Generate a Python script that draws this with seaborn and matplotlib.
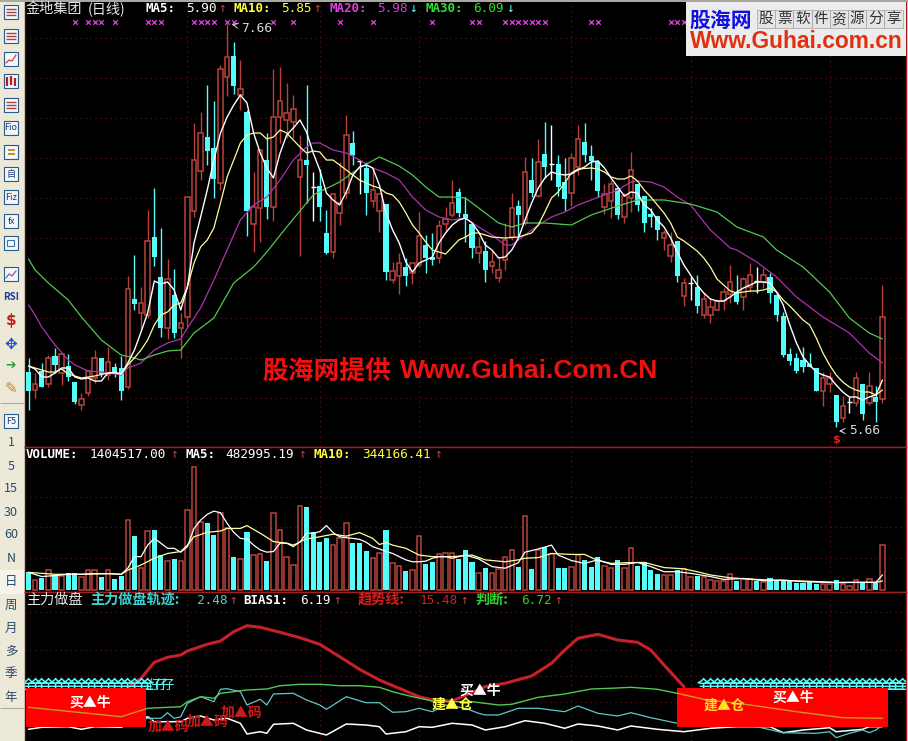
import numpy as np
import matplotlib
matplotlib.use('Agg')
import matplotlib.pyplot as plt
from matplotlib.patches import Rectangle
import seaborn as sns

W, H = 908, 741

# candles, prices
kind = ("crcrcrccrr" "rcrccrcrrc" "crcrrrrccr" "rcrcrrcrrr" "rrcwccrrrc" "wcrrcrrcrr" "ccrrrcccrc"
        "rrrrcrcrcw" "ccrrcccrrc" "rrccccrrcr" "wcrrrrrcrr" "wrcccccccc" "rrcrwrcrcr")
body_hi = [5.93,5.87,5.935,6.00,6.01,6.02,5.96,5.88,5.795,5.935,6.00,6.00,5.98,5.955,5.95,6.345,6.295,6.275,6.585,6.605,
           6.405,6.395,6.315,6.175,6.805,6.99,7.125,7.105,7.05,7.445,7.505,7.51,7.345,7.23,6.755,7.04,6.99,7.205,7.285,7.225,
           7.245,6.99,6.99,6.855,6.86,6.625,6.82,6.775,7.115,7.075,6.985,6.95,6.84,6.82,6.77,6.435,6.475,6.455,6.475,6.61,
           6.565,6.505,6.66,6.695,6.775,6.83,6.72,6.67,6.555,6.535,6.48,6.44,6.59,6.75,6.76,6.93,6.89,6.98,7.02,6.97,
           6.97,6.88,7.00,7.095,7.08,7.01,6.98,6.82,6.87,6.85,6.81,6.94,6.87,6.81,6.72,6.71,6.625,6.565,6.585,6.375,
           6.375,6.355,6.295,6.255,6.285,6.33,6.38,6.33,6.395,6.415,6.385,6.415,6.405,6.315,6.21,6.02,6.00,5.99,5.97,5.95,
           5.90,5.90,5.815,5.76,5.78,5.90,5.87,5.86,5.805,6.205]
body_lo = [5.835,5.84,5.855,5.87,5.965,5.925,5.905,5.78,5.765,5.825,5.90,5.92,5.915,5.925,5.835,5.855,6.27,6.225,6.215,6.505,
           6.15,6.15,6.125,6.15,6.205,6.735,6.935,7.035,6.895,6.875,7.405,7.36,7.315,6.735,6.67,6.75,6.755,6.755,7.205,7.19,
           7.18,6.905,6.965,6.855,6.755,6.525,6.53,6.725,6.825,7.015,6.985,6.825,6.785,6.735,6.43,6.39,6.41,6.41,6.425,6.465,
           6.50,6.49,6.50,6.67,6.715,6.725,6.70,6.55,6.525,6.44,6.46,6.40,6.49,6.605,6.715,6.675,6.825,6.81,6.955,6.97,
           6.855,6.795,6.825,6.955,7.015,6.985,6.835,6.755,6.785,6.715,6.705,6.80,6.765,6.675,6.705,6.64,6.60,6.51,6.41,6.31,
           6.375,6.26,6.215,6.215,6.24,6.285,6.32,6.28,6.305,6.355,6.385,6.38,6.325,6.215,6.015,5.985,5.935,5.955,5.955,5.835,
           5.835,5.87,5.68,5.70,5.78,5.775,5.72,5.775,5.78,5.795]
high = [6.00,5.925,5.975,6.015,6.05,6.02,6.02,5.88,5.825,5.935,6.04,6.00,6.055,5.975,6.01,6.41,6.515,6.355,6.74,6.85,
        6.65,6.495,6.445,6.225,6.805,7.175,7.23,7.365,7.285,7.465,7.67,7.58,7.49,7.24,6.93,7.04,7.125,7.445,7.455,7.375,
        7.315,7.115,7.365,6.93,6.945,6.74,6.82,6.98,7.215,7.135,6.99,6.98,6.95,6.82,6.77,6.48,6.525,6.50,6.475,6.73,
        6.615,6.625,6.69,6.755,6.89,6.85,6.805,6.68,6.605,6.585,6.54,6.505,6.675,6.825,6.79,7.005,7.00,7.095,7.18,7.165,
        7.015,7.00,7.025,7.165,7.175,7.065,6.99,6.87,6.89,6.85,6.825,7.03,6.87,6.81,6.75,6.71,6.64,6.63,6.585,6.40,
        6.405,6.415,6.325,6.30,6.295,6.35,6.465,6.415,6.405,6.475,6.455,6.45,6.425,6.325,6.23,6.05,6.025,6.055,6.025,5.95,
        5.93,5.93,5.815,5.81,5.805,5.93,5.87,5.93,5.86,6.365]
low = [5.74,5.80,5.855,5.855,5.925,5.865,5.885,5.77,5.74,5.81,5.875,5.905,5.89,5.905,5.79,5.845,6.24,6.14,6.20,6.46,
       6.105,6.095,6.10,6.00,6.16,6.705,6.89,6.965,6.80,6.84,7.31,7.32,7.24,6.61,6.53,6.58,6.695,6.685,7.075,7.10,
       7.10,6.51,6.775,6.685,6.685,6.52,6.50,6.665,6.80,6.965,6.82,6.715,6.755,6.63,6.39,6.375,6.32,6.36,6.37,6.455,
       6.425,6.465,6.475,6.63,6.705,6.705,6.58,6.50,6.475,6.38,6.425,6.38,6.44,6.59,6.605,6.665,6.805,6.805,6.90,6.89,
       6.81,6.735,6.76,6.915,6.98,6.89,6.805,6.72,6.70,6.695,6.675,6.73,6.735,6.63,6.655,6.59,6.54,6.48,6.38,6.26,
       6.29,6.225,6.20,6.175,6.24,6.24,6.275,6.27,6.24,6.33,6.325,6.35,6.275,6.185,6.005,5.965,5.925,5.93,5.955,5.835,
       5.76,5.83,5.655,5.68,5.725,5.76,5.69,5.765,5.68,5.775]

ma5 = [5.96,5.945,5.905,5.905,5.925,5.95,5.95,5.905,5.895,5.90,5.885,5.885,5.925,5.925,5.92,5.975,6.04,6.13,6.225,6.385,
       6.37,6.38,6.34,6.24,6.355,6.575,6.705,6.84,6.99,7.125,7.205,7.265,7.315,7.275,7.125,7.025,6.95,6.90,7.025,7.115,
       7.15,7.19,7.13,7.025,6.94,6.825,6.79,6.765,6.83,6.915,6.955,6.965,6.95,6.865,6.725,6.64,6.575,6.48,6.43,6.475,
       6.49,6.505,6.575,6.625,6.665,6.69,6.70,6.675,6.63,6.565,6.54,6.50,6.505,6.54,6.60,6.69,6.775,6.85,6.90,6.93,
       6.92,6.915,6.92,6.94,6.955,6.98,6.985,6.95,6.90,6.855,6.81,6.83,6.825,6.765,6.74,6.69,6.655,6.60,6.53,6.465,
       6.415,6.365,6.325,6.295,6.285,6.285,6.305,6.33,6.35,6.365,6.38,6.38,6.375,6.33,6.265,6.165,6.075,6.005,5.965,5.93,
       5.915,5.905,5.865,5.83,5.805,5.805,5.79,5.805,5.815,5.89]
ma10_pts = [(0,5.96),(3,5.93),(4,5.93),(5,5.945),(6,5.92),(8,5.90),(10,5.91),(12,5.925),(13,5.93),(14,5.92),(15,5.965),(16,6.00),(17,6.04),(18,6.09),(19,6.165),
            (20,6.215),(21,6.23),(22,6.265),(23,6.275),(24,6.355),(25,6.475),(26,6.555),(27,6.59),(28,6.65),(29,6.775),(30,6.905),(31,6.99),(32,7.075),(33,7.115),(34,7.125),
            (35,7.125),(36,7.095),(37,7.105),(38,7.14),(39,7.125),(40,7.09),(41,7.055),(42,7.025),(43,7.035),(44,7.03),(45,6.99),(46,6.99),(47,6.965),(48,6.94),(49,6.915),
            (50,6.89),(51,6.875),(52,6.86),(53,6.85),(54,6.825),(55,6.815),(56,6.78),(57,6.725),(58,6.665),(59,6.625),(60,6.58),(61,6.54),(62,6.53),(63,6.52),(64,6.555),
            (65,6.59),(66,6.605),(67,6.625),(68,6.625),(69,6.615),(70,6.605),(72,6.60),(74,6.605),(76,6.625),(77,6.665),(78,6.73),(79,6.80),(80,6.83),(81,6.875),(82,6.925),
            (83,6.945),(85,6.95),(86,6.945),(87,6.93),(88,6.905),(89,6.895),(90,6.895),(91,6.91),(92,6.885),(93,6.84),(94,6.805),(95,6.765),(96,6.725),(97,6.675),(98,6.605),
            (99,6.585),(100,6.56),(101,6.535),(102,6.50),(103,6.455),(104,6.395),(105,6.365),(106,6.335),(107,6.325),(108,6.33),(109,6.335),(110,6.335),(111,6.34),(112,6.35),
            (113,6.33),(114,6.29),(115,6.26),(116,6.225),(117,6.19),(118,6.165),(119,6.10),(120,6.025),(121,5.965),(122,5.915),(123,5.88),(124,5.855),(125,5.84),(126,5.83),
            (127,5.83),(128,5.815),(129,5.84)]
ma20_pts = [(0,6.265),(1,6.215),(2,6.155),(4,6.065),(6,5.99),(7,5.965),(9,5.935),(11,5.93),(13,5.92),(14,5.915),(15,5.95),(17,5.975),(19,6.04),(21,6.075),(23,6.095),(24,6.15),
            (26,6.25),(28,6.39),(30,6.54),(32,6.69),(34,6.765),(36,6.805),(38,6.89),(40,6.99),(42,7.055),(43,7.075),(44,7.075),(46,7.04),(48,7.025),(50,6.99),(52,6.95),(54,6.925),
            (56,6.89),(58,6.805),(60,6.74),(62,6.705),(64,6.69),(66,6.70),(68,6.655),(70,6.615),(72,6.565),(73,6.565),(75,6.615),(77,6.665),(79,6.705),(81,6.73),(83,6.765),(85,6.79),
            (87,6.815),(89,6.84),(91,6.88),(92,6.885),(94,6.88),(96,6.855),(98,6.805),(100,6.765),(103,6.64),(106,6.55),(107,6.54),(110,6.48),(113,6.405),(116,6.305),(120,6.205),
            (124,6.125),(127,6.025),(129,5.975)]
ma30_pts = [(0,6.495),(1,6.44),(3,6.375),(6,6.29),(8,6.205),(11,6.09),(14,6.015),(16,6.00),(17,5.99),(19,6.015),(21,6.035),(23,6.04),(25,6.125),(28,6.20),(31,6.375),(34,6.455),
            (36,6.53),(39,6.655),(43,6.815),(47,6.88),(50,6.95),(53,7.005),(56,6.96),(58,6.915),(60,6.855),(62,6.805),(64,6.805),(66,6.80),(68,6.75),(71,6.675),(73,6.655),(75,6.675),
            (78,6.675),(82,6.665),(85,6.715),(89,6.76),(92,6.79),(96,6.79),(100,6.77),(104,6.73),(107,6.655),(111,6.605),(113,6.54),(117,6.455),(121,6.33),(124,6.20),(127,6.125),(129,6.095)]
flag_idx = [7,9,10,11,13,18,19,20,25,26,27,28,30,31,37,40,47,52,61,67,68,72,73,74,75,76,77,78,85,86,97,98,99]

# volume, in 10k
volume = [57,31,38,61,46,43,52,52,41,61,61,41,61,34,45,217,168,68,184,187,109,90,97,90,249,384,211,209,172,239,194,103,97,181,109,111,90,239,186,103,78,262,259,180,151,161,140,161,208,148,148,122,99,114,187,83,74,59,61,168,82,87,111,114,
          114,97,125,88,52,69,52,66,103,125,72,231,66,126,134,112,69,69,72,109,94,72,103,75,69,94,69,131,76,86,62,50,47,47,62,66,40,44,40,31,28,28,49,28,33,33,28,26,36,31,31,31,23,23,24,20,20,20,31,20,13,31,23,33,26,140]
doji_vol = {43:'c', 50:'c', 79:'r', 100:'r', 110:'c', 124:'r'}
vol5_pts = [(0,55),(2,42),(4,45),(6,49),(8,49),(10,51),(12,51),(14,49),(15,68),(16,104),(17,104),(18,140),(19,161),(20,146),(21,130),(22,130),(23,118),(24,135),(25,192),(26,218),(27,236),(28,246),(29,241),(30,208),(31,180),(32,161),(33,159),(34,140),(35,125),(36,118),(37,120),(38,146),(39,146),(40,140),(41,149),(42,177),(43,177),(44,182),(45,201),(46,179),(47,166),(48,163),(49,161),(50,158),(51,149),(52,135),(53,128),(54,120),(55,114),(56,104),(57,94),(58,88),(59,88),(60,90),(61,99),(62,104),(63,104),(64,99),(66,109),(68,97),(70,73),(72,68),(74,85),(75,118),(77,128),(79,140),(80,109),(82,92),(84,83),(86,94),(88,80),(90,80),(92,86),(94,73),(96,57),(98,57),(100,52),(103,42),(105,33),(108,36),(111,29),(114,31),(117,26),(122,23),(128,24),(129,47)]
vol10_pts = [(0,55),(4,49),(8,49),(12,51),(14,49),(15,62),(17,78),(19,99),(21,114),(23,120),(24,140),(25,166),(27,180),(29,184),(30,192),(32,192),(33,201),(35,177),(37,151),(39,146),(40,135),(41,151),(42,159),(44,166),(46,174),(48,168),(50,179),(52,161),(53,142),(54,148),(55,140),(57,130),(59,109),(61,104),(64,104),(67,109),(69,94),(72,88),(74,94),(75,99),(77,101),(79,114),(82,111),(84,111),(86,92),(88,83),(90,85),(93,86),(96,70),(99,66),(101,57),(103,47),(106,38),(109,34),(112,31),(117,28),(122,24),(128,24),(129,28)]

# indicator panel
trend_pts = [(15,46.3),(17,55.7),(19,71.7),(21,76.7),(23,79),(24,83),(27,89.7),(29,93),(31,102.3),(33,108.3),(35,106.7),(38,101.7),(41,96.3),(44,89.7),(47,77.3),(50,64.7),(53,54),(56,45.7),(59,37.3),(61,34),(64,33),(69,47.3),(72,50.7),(76,58),(79,70.7),(81,84),(83,95.7),(86,99.7),(89,94),(92,91.7),(94,84),(96,69),(99,47.3)]
judge_pts = [(0,26.7),(14,17.3),(18,25.7),(23,27.3),(24,32.3),(26,37.3),(28,35.7),(29,40.7),(31,42.3),(33,44),(36,45),(38,48.3),(41,49.7),(44,49.7),(47,48.3),(50,48.3),(53,46.7),(55,42.3),(58,37.3),(61,33),(64,32.3),(67,32.3),(71,29),(73,29.7),(77,36.7),(81,40),(85,45),(88,45.7),(91,46.7),(95,44.7),(98,40.7),(102,34.7),(109,29),(116,22.3),(123,16.3),(129,15.7)]
track_pts = [(0,12),(8,12),(16,12),(18,15.7),(20,15.7),(21,21.3),(22,15.7),(23,17.3),(24,30.7),(26,37.3),(28,32.3),(29,44.7),(30,45.3),(32,42.3),(33,29),(35,34.7),(36,29),(37,40),(40,40.7),(42,34),(44,29),(45,24.7),(48,37.3),(51,31.3),(53,31.3),(55,21.7),(57,22.3),(59,25.7),(61,22.3),(63,29),(66,25.7),(68,20.7),(69,19),(71,19),(74,25.7),(77,25.7),(81,22.3),(83,28),(86,20.7),(89,18),(91,21.3),(94,16.3),(98,10.7),(105,9),(110,7.3),(114,1.3),(119,0.7),(121,2.3),(122,-3.7),(124,0.7),(126,4),(127,1.3),(128,4),(129,9)]
bias_pts = [(0,4.7),(2,6.7),(6,7.3),(8,4.7),(10,7.3),(14,6.7),(18,17.3),(19,12.3),(23,12.3),(24,15.7),(26,18),(28,14),(30,15.7),(32,10.7),(33,0),(35,2.3),(36,0.7),(37,9.7),(40,10.7),(42,4),(45,-1),(48,10),(51,9),(53,7.3),(54,0),(57,2.3),(59,7.3),(61,6.7),(64,10.7),(67,9),(69,4),(72,7.3),(75,13.3),(78,10.7),(81,5.7),(83,10),(86,8),(89,4),(91,8),(95,4.7),(99,2.3),(103,5.7),(107,7.3),(112,7.3),(114,1.3),(117,4),(121,6.3),(122,2.3),(126,4.7),(127,7.3),(129,7.3)]
box_spans = [(-0.4, 17.8), (98.0, 129.8)]
box_vals = (7, 46)
cyan_row1 = list(range(0, 19))
cyan_row2 = list(range(102, 133))

RED = '#B9423A'
CYAN = '#54FCFC'
GRID = '#5A1512'

sns.set_theme(style='dark', rc={'axes.facecolor': 'black', 'figure.facecolor': '#ECE9D8'})
plt.rcParams['font.family'] = ['Noto Sans CJK SC', 'DejaVu Sans']

fig = plt.figure(figsize=(W / 100, H / 100), dpi=100)


def panel(y0, y1, ylim):
    a = fig.add_axes([25 / W, 1 - y1 / H, 881 / W, (y1 - y0) / H])
    a.set_xlim(-0.53, 132.55)
    a.set_ylim(*ylim)
    a.set_xticks([])
    a.set_yticks([])
    for s in a.spines.values():
        s.set_color('#A02020')
        s.set_linewidth(1)
    a.spines['left'].set_color('#401010')
    return a


def draw_line(a, pts, color, lw=0.8, z=5):
    xs = [p[0] for p in pts]
    ys = [p[1] for p in pts]
    sns.lineplot(x=xs, y=ys, ax=a, color=color, linewidth=lw, estimator=None, sort=False, zorder=z, legend=False)
    a.set_xlabel('')
    a.set_ylabel('')
    return a.lines[-1]


def grid(a, ys):
    a.hlines(ys, -0.53, 132.55, color=GRID, lw=0.9, linestyles=(0, (1, 3)), zorder=1)
    a.vlines([24, 44, 59, 82, 100, 121], *a.get_ylim(), color=GRID, lw=0.9, linestyles=(0, (1, 3)), zorder=1)


def put(x, y, s, color, size=9.2, mono=True, weight='normal', **kw):
    fam = ['DejaVu Sans Mono', 'Noto Sans CJK SC'] if mono else ['Noto Sans CJK SC', 'DejaVu Sans']
    fig.text(x / W, 1 - y / H, s, color=color, fontsize=size, family=fam, weight=weight, va='center', zorder=20, **kw)


ax = panel(0, 447, (5.555, 7.79))
vx = panel(447, 592, (-6.24, 446))
ix = panel(592, 741, (-7, 142))
ax.spines['top'].set_visible(False)
ix.spines['bottom'].set_visible(False)

# price panel
grid(ax, np.arange(5.8, 7.7, 0.2))
for i, k in enumerate(kind):
    col = {'c': CYAN, 'r': RED, 'w': 'white'}[k]
    ax.vlines(i, low[i], high[i], color=col, lw=1.0, zorder=2)
    if k == 'w':
        ax.hlines(body_hi[i], i - 0.4, i + 0.4, color=col, lw=1.0, zorder=3)
    elif k == 'c':
        ax.bar(i, body_hi[i] - body_lo[i], bottom=body_lo[i], width=0.78, color=CYAN, lw=0, zorder=3)
    else:
        ax.bar(i, body_hi[i] - body_lo[i], bottom=body_lo[i], width=0.68, facecolor='black', edgecolor=RED, lw=1.1, zorder=3)
draw_line(ax, list(enumerate(ma5)), 'white', 1.0, 7)
draw_line(ax, ma10_pts, '#FFFF99', 0.9, 6)
draw_line(ax, ma20_pts, '#B030B0', 0.9, 5)
draw_line(ax, ma30_pts, '#50C850', 0.9, 5)
sns.scatterplot(x=flag_idx, y=[7.68] * len(flag_idx), ax=ax, marker='x', color='#E040E0', s=11, linewidth=0.9, zorder=6, legend=False)
ax.set_xlabel('')
ax.set_ylabel('')
ax.annotate('7.66', xy=(30.3, 7.67), xytext=(32.1, 7.645), color='#D8D8D8', fontsize=9.3, family='DejaVu Sans Mono', va='center',
            arrowprops=dict(arrowstyle='->', color='#D8D8D8', lw=0.7), zorder=8)
ax.annotate('5.66', xy=(122.0, 5.635), xytext=(123.9, 5.635), color='#D8D8D8', fontsize=9.3, family='DejaVu Sans Mono', va='center',
            arrowprops=dict(arrowstyle='->', color='#D8D8D8', lw=0.7), zorder=8)
ax.text(122, 5.59, '$', color='#E02020', fontsize=8, ha='center', va='center', family='DejaVu Sans', weight='bold', zorder=8)

# volume panel
grid(vx, [100, 197, 290])
for i, k in enumerate(kind):
    k2 = doji_vol.get(i, k)
    if k2 == 'c':
        vx.bar(i, volume[i], width=0.78, color=CYAN, lw=0, zorder=3)
    else:
        vx.bar(i, volume[i], width=0.68, facecolor='black', edgecolor=RED, lw=1.1, zorder=3)
draw_line(vx, vol10_pts, '#FFFF99', 0.9, 5)
draw_line(vx, vol5_pts, 'white', 0.9, 6)

# indicator panel
grid(ix, [32, 58, 84, 122])
draw_line(ix, bias_pts, 'white', 1.1, 3)
draw_line(ix, track_pts, '#60C8C8', 0.9, 3)
draw_line(ix, trend_pts, '#C8202A', 2.2, 3)
draw_line(ix, judge_pts, '#50C850', 1.0, 3)
for i in cyan_row1 + cyan_row2:
    ix.text(i, 49, '全', color=CYAN, fontsize=9.5, weight='bold', ha='center', va='center', zorder=4, clip_on=True)
for i in [19, 20, 21]:
    ix.text(i, 49, '仔', color=CYAN, fontsize=9.5, ha='center', va='center', zorder=4)
for x0, x1 in box_spans:
    box = Rectangle((x0, box_vals[0]), x1 - x0, box_vals[1] - box_vals[0], color='#FF0000', lw=0, zorder=5)
    ix.add_patch(box)
    draw_line(ix, judge_pts, '#D89020', 1.0, 6).set_clip_path(box)
for xi, v, s, c in [(9.3, 31, '买▲牛', 'white'), (115.5, 36, '买▲牛', 'white'), (68.2, 43, '买▲牛', 'white'),
                    (21.1, 7, '加▲码', '#D01818'), (27.1, 12, '加▲码', '#D01818'), (32.2, 21, '加▲码', '#D01818'),
                    (64.1, 29, '建▲仓', '#FFFF40'), (105.2, 28, '建▲仓', '#FFE020')]:
    ix.text(xi, v, s, color=c, fontsize=10, weight='bold', ha='center', va='center', zorder=7)

# header rows
ya = 9
put(26, ya, '金地集团', '#E8E8E8', mono=False, size=10.2)
put(88, ya, '(日线)', '#E8E8E8', mono=False, size=10.2)
for x, s, c in [(145, 'MA5:', 'white'), (233, 'MA10:', '#FFFF40'), (329, 'MA20:', '#E040E0'), (425, 'MA30:', '#30E030')]:
    put(x, ya, s, c, weight='bold', size=9)
for x, s, c in [(186, '5.90', 'white'), (281, '5.85', '#FFFF40'), (377, '5.98', '#D040D0'), (473, '6.09', '#30E030')]:
    put(x, ya, s, c)
for x, s, c in [(218, '↑', '#D04040'), (313, '↑', '#D04040'), (409, '↓', CYAN), (506, '↓', CYAN)]:
    put(x, ya, s, c)
yb = 455
put(26, yb, 'VOLUME:', 'white', weight='bold', size=9)
put(90, yb, '1404517.00', 'white')
put(170, yb, '↑', '#D04040')
put(185, yb, 'MA5:', 'white', weight='bold', size=9)
put(225, yb, '482995.19', 'white')
put(298, yb, '↑', '#D04040')
put(313, yb, 'MA10:', '#FFFF40', weight='bold', size=9)
put(362, yb, '344166.41', '#FFFF40')
put(434, yb, '↑', '#D04040')
yc = 600
put(26, yc, '主力做盘', '#E8E8E8', mono=False, size=10.2)
put(90, yc, '主力做盘轨迹:', '#40D0D0', mono=False, size=10.2, weight='bold')
put(197, yc, '2.48', '#60C8C8')
put(229, yc, '↑', '#D04040')
put(243, yc, 'BIAS1:', 'white', weight='bold', size=9)
put(300, yc, '6.19', 'white')
put(333, yc, '↑', '#D04040')
put(358, yc, '趋势线:', '#D02020', mono=False, size=10.2, weight='bold')
put(420, yc, '15.48', '#D02020')
put(460, yc, '↑', '#D04040')
put(475, yc, '判断:', '#30D030', mono=False, size=10.2, weight='bold')
put(521, yc, '6.72', '#30D030')
put(554, yc, '↑', '#D04040')

# left toolbar
tb = fig.add_axes([0, 0, 25 / W, 1])
tb.set_xlim(0, 25)
tb.set_ylim(H, 0)
tb.axis('off')
tb.add_patch(Rectangle((0, 570), 24, 24, color='#F6F4EA', lw=0))
for y in [403, 708]:
    tb.hlines(y, 0, 24, color='#B0AD9A', lw=0.8)
icons = [(12, ''), (36, ''), (59, ''), (81, ''), (105, ''), (128, 'Fio'), (152, ''), (174, '自'), (197, 'Fiz'), (221, 'fx'), (243, ''), (274, '')]
for y, s in icons:
    tb.add_patch(Rectangle((4, y - 7), 14, 14, facecolor='#F4F6FA', edgecolor='#2A5A8A', lw=0.8))
    if s:
        tb.text(11, y, s, color='#1A3A7A', fontsize=6.5, ha='center', va='center')
for y in [12, 36, 105]:
    tb.hlines([y - 3, y, y + 3], 6, 16, color='#B04040', lw=1.0)
tb.plot([6, 9, 12, 16], [63, 60, 61, 55], color='#C04040', lw=0.9)
tb.plot([6, 9, 12, 16], [278, 274, 276, 271], color='#8060A0', lw=0.9)
tb.vlines([7, 11, 15], [77, 76, 78], [86, 85, 86], color='#B02020', lw=1.6)
tb.hlines([150, 154], 8, 15, color='#C09030', lw=1.4)
tb.add_patch(Rectangle((7, 240), 7, 6, facecolor='none', edgecolor='#4070A0', lw=0.8))
tb.text(11, 297, 'RSI', color='#1A3AA0', fontsize=7, weight='bold', ha='center', va='center')
tb.text(11, 321, '$', color='#C02020', fontsize=11, weight='bold', ha='center', va='center', family='DejaVu Sans')
tb.text(11, 344, '✥', color='#2050C0', fontsize=11, ha='center', va='center', family='DejaVu Sans')
tb.text(11, 366, '➔', color='#20A040', fontsize=9, ha='center', va='center', family='DejaVu Sans')
tb.text(11, 389, '✎', color='#D08020', fontsize=11, ha='center', va='center', family='DejaVu Sans')
tb.add_patch(Rectangle((4, 414), 14, 14, facecolor='#F4F6FA', edgecolor='#2A5A8A', lw=0.8))
tb.text(11, 421, 'F5', color='#1A3A7A', fontsize=6.5, ha='center', va='center')
for y, s in [(443, '1'), (467, '5'), (488, '15'), (512, '30'), (535, '60'), (558, 'N'), (582, '日'), (605, '周'), (628, '月'), (651, '多'), (673, '季'), (697, '年')]:
    tb.text(11, y, s, color='#2A4A6A', fontsize=9, ha='center', va='center')

# logo and watermark
lg = fig.add_axes([0, 0, 1, 1], facecolor='none')
lg.set_xlim(0, W)
lg.set_ylim(H, 0)
lg.axis('off')
lg.add_patch(Rectangle((0, 0), W, 1.5, color='#A8A8A0', lw=0))
lg.add_patch(Rectangle((686, 2), 220, 54, color='#ECECEC', lw=0))
lg.text(690, 20, '股海网', color='#1010E0', fontsize=15, weight='bold', va='center')
for j, ch in enumerate('股票软件资源分享'):
    lg.add_patch(Rectangle((757 + j * 18.2, 10), 18.2, 18, facecolor='#E4E4E4', edgecolor='#A0A0A0', lw=0.5))
    lg.text(766 + j * 18.2, 19, ch, color='#303030', fontsize=10.5, ha='center', va='center')
lg.text(690, 42, 'Www.Guhai.com.cn', color='#E03010', fontsize=16.4, weight='bold', va='center', family='Liberation Sans')
lg.text(262, 371, '股海网提供', color='#F01010', fontsize=18.5, weight='bold', va='center')
lg.text(400, 371, 'Www.Guhai.Com.CN', color='#F01010', fontsize=19, weight='bold', va='center', family='Liberation Sans')

fig.savefig('out.png', dpi=100)
